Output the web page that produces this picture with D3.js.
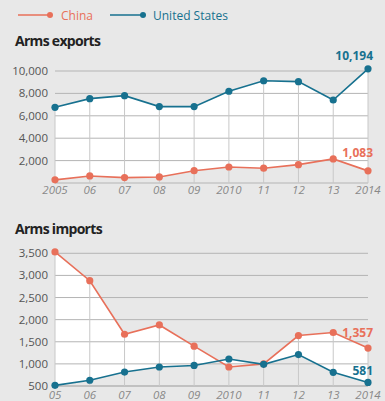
<!DOCTYPE html>
<html><head><meta charset="utf-8">
<script src="https://cdn.jsdelivr.net/npm/d3@7"></script>
<style>
body{margin:0;background:#e8e8e8;}
svg{display:block;font-family:"Open Sans",Lato,sans-serif;}
</style></head>
<body><svg id="c" width="385" height="401"></svg>
<script>
const years = [2005,2006,2007,2008,2009,2010,2011,2012,2013,2014];
const exportLabels = ["2005","06","07","08","09","2010","11","12","13","2014"];
const importLabels = ["05","06","07","08","09","2010","11","12","13","2014"];
const exportsChina = [280,630,480,540,1100,1430,1320,1640,2150,1083];
const exportsUS = [6760,7530,7800,6820,6820,8190,9130,9050,7410,10194];
const importsChina = [3530,2880,1670,1880,1400,930,1000,1640,1710,1357];
const importsUS = [515,630,815,930,965,1110,990,1210,810,581];
const exportTicks = [2000,4000,6000,8000,10000];
const importTicks = [500,1000,1500,2000,2500,3000,3500];

const CHINA = "#e8705a", US = "#17718f";
const svg = d3.select("#c");
svg.append("rect").attr("width",385).attr("height",401).attr("fill","#e8e8e8");

// legend
const lg = svg.append("g");
[[18,50,61,"China",CHINA],[110,143,153,"United States",US]].forEach(([x0,x1,tx,t,c])=>{
  lg.append("line").attr("x1",x0).attr("x2",x1).attr("y1",15).attr("y2",15).attr("stroke",c).attr("stroke-width",1.5);
  lg.append("circle").attr("cx",x1).attr("cy",15).attr("r",3).attr("fill",c);
  lg.append("text").attr("x",tx).attr("y",19.5).attr("fill",c).attr("font-size",12).text(t);
});

const x = d3.scalePoint().domain(years).range([55,368]);

function panel(title, titleY, yDomain, yRange, ticks, labels, s1, s2, labelY){
  const y = d3.scaleLinear().domain(yDomain).range(yRange);
  const g = svg.append("g");
  g.append("text").attr("x",15).attr("y",titleY).attr("font-weight","bold").attr("font-size",14)
    .attr("fill","#222").attr("letter-spacing",-0.7).text(title);
  const rows = years.map((yr,i)=>({yr, a:s1[i], b:s2[i]}));
  // white area between series
  const area = d3.area().x(d=>x(d.yr)).y0(d=>y(d.a)).y1(d=>y(d.b));
  g.append("path").attr("fill","#ffffff").attr("stroke","none").attr("d",area(rows));
  // horizontal gridlines
  g.selectAll(".gl").data([yDomain[0]].concat(ticks)).join("line")
    .attr("x1",55).attr("x2",368).attr("y1",d=>y(d)).attr("y2",d=>y(d))
    .attr("stroke","#b4b4b4").attr("stroke-width",1);
  // vertical lines
  g.selectAll(".vl").data(rows).join("line")
    .attr("x1",d=>x(d.yr)).attr("x2",d=>x(d.yr)).attr("y1",d=>y(Math.max(d.a,d.b))).attr("y2",y(yDomain[0]))
    .attr("stroke","#c8c8c8").attr("stroke-width",1);
  // y tick labels
  g.selectAll(".yl").data(ticks).join("text")
    .attr("x",48).attr("y",d=>y(d)+4).attr("text-anchor","end").attr("font-size",11.5).attr("fill","#555")
    .text(d=>d3.format(",")(d));
  // x labels
  g.selectAll(".xl").data(years).join("text")
    .attr("x",d=>x(d)).attr("y",labelY).attr("text-anchor","middle").attr("font-size",11.5)
    .attr("font-style","italic").attr("fill","#888").text((d,i)=>labels[i]);
  const line = d3.line().x((d,i)=>x(years[i])).y(d=>y(d));
  return {g,y,line};
}

function drawSeries(p, data, color){
  p.g.append("path").datum(data).attr("fill","none").attr("stroke",color).attr("stroke-width",1.6).attr("d",p.line);
  p.g.selectAll(null).data(data).join("circle").attr("cx",(d,i)=>x(years[i])).attr("cy",d=>p.y(d)).attr("r",3.6).attr("fill",color);
}

const fmt = d3.format(",");
const pe = panel("Arms exports",46,[0,10000],[183,71],exportTicks,exportLabels,exportsUS,exportsChina,194);
drawSeries(pe, exportsChina, CHINA);
drawSeries(pe, exportsUS, US);
pe.g.append("text").attr("x",373).attr("y",pe.y(exportsUS[9])-9).attr("text-anchor","end").attr("font-size",12).attr("font-weight","bold").attr("fill",US).text(fmt(exportsUS[9]));
pe.g.append("text").attr("x",373).attr("y",pe.y(exportsChina[9])-14).attr("text-anchor","end").attr("font-size",12).attr("font-weight","bold").attr("fill",CHINA).text(fmt(exportsChina[9]));

const pi = panel("Arms imports",234,[500,3500],[386,253.3],importTicks,importLabels,importsChina,importsUS,399);
drawSeries(pi, importsChina, CHINA);
drawSeries(pi, importsUS, US);
pi.g.append("text").attr("x",373).attr("y",pi.y(importsChina[9])-11).attr("text-anchor","end").attr("font-size",12).attr("font-weight","bold").attr("fill",CHINA).text(fmt(importsChina[9]));
pi.g.append("text").attr("x",373).attr("y",pi.y(importsUS[9])-7).attr("text-anchor","end").attr("font-size",12).attr("font-weight","bold").attr("fill",US).text(fmt(importsUS[9]));
</script></body></html>
